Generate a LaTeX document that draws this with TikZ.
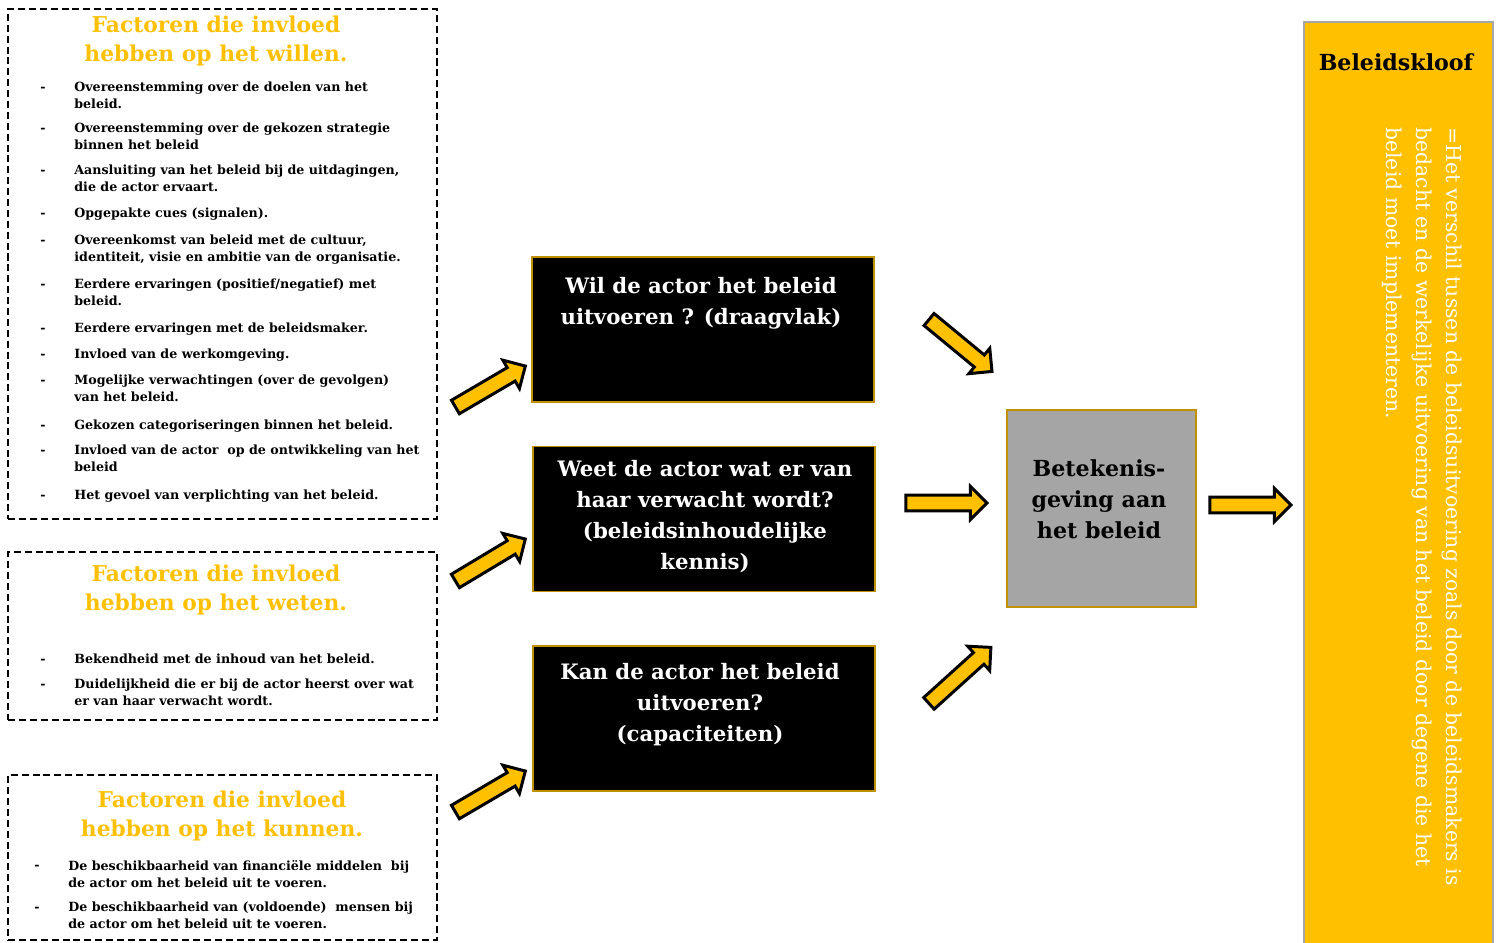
\documentclass[tikz,border=0pt]{standalone}
\usepackage{fontspec}
\setmainfont{DejaVu Serif}
\usetikzlibrary{shapes.arrows, calc}
\definecolor{goldfill}{HTML}{FFC000}
\definecolor{goldborder}{HTML}{BF9000}
\definecolor{greyfill}{HTML}{A5A5A5}
\definecolor{panelborder}{HTML}{A6A6A6}
\tikzset{
  factorframe/.style={rectangle, draw=black, line width=1.1pt, dash pattern=on 4pt off 2.2pt, inner sep=0pt},
  factortitle/.style={font=\bfseries\fontsize{12.4}{17}\selectfont, text=goldfill, align=center, inner sep=0pt},
  item/.style={font=\bfseries\fontsize{7.2}{9.64}\selectfont, align=left, anchor=north west, inner sep=0pt},
  dashmark/.style={item, text height=5.3pt},
  question/.style={rectangle, fill=black, draw=goldborder, line width=1.1pt, minimum width=6.84cm, minimum height=2.9cm},
  questiontext/.style={font=\bfseries\fontsize{12.1}{17.6}\selectfont, text=white, align=center, anchor=north, inner sep=0pt},
  meaning/.style={rectangle, fill=greyfill, draw=goldborder, line width=1.1pt, minimum width=3.78cm, minimum height=3.94cm},
  blockarrow/.style={single arrow, draw=black, fill=goldfill, line width=1.7pt, inner sep=3.6pt, single arrow head extend=4.9pt, single arrow head indent=0pt, sloped}
}

\begin{document}
\begin{tikzpicture}[x=0.02cm, y=-0.02cm]
\useasboundingbox (0,0) rectangle (1499,943);

% factor frames
\node[factorframe, minimum width=8.58cm, minimum height=10.2cm] (willen) at (222.5,264) {};
\node[factorframe, minimum width=8.58cm, minimum height=3.36cm] (weten) at (222.5,636) {};
\node[factorframe, minimum width=8.58cm, minimum height=3.3cm] (kunnen) at (222.5,857.5) {};

\node[factortitle] (willen-title) at (216,41) {Factoren die invloed\\hebben op het willen.};
\node[factortitle] (weten-title) at (216,590) {Factoren die invloed\\hebben op het weten.};
\node[factortitle] (kunnen-title) at (222,816) {Factoren die invloed\\hebben op het kunnen.};

\foreach \y/\txt [count=\i] in {
  87/{Overeenstemming over de doelen van het\\beleid.},
  128/{Overeenstemming over de gekozen strategie\\binnen het beleid},
  170/{Aansluiting van het beleid bij de uitdagingen,\\die de actor ervaart.},
  213/{Opgepakte cues (signalen).},
  240/{Overeenkomst van beleid met de cultuur,\\identiteit, visie en ambitie van de organisatie.},
  284/{Eerdere ervaringen (positief/negatief) met\\beleid.},
  328/{Eerdere ervaringen met de beleidsmaker.},
  354/{Invloed van de werkomgeving.},
  380/{Mogelijke verwachtingen (over de gevolgen)\\van het beleid.},
  425/{Gekozen categoriseringen binnen het beleid.},
  450/{Invloed van de actor\ \ op de ontwikkeling van het\\beleid},
  495/{Het gevoel van verplichting van het beleid.}} {
  \node[dashmark] (willen-dash\i) at (40,\y-5) {-};
  \node[item] (willen-item\i) at (74,\y-5) {\txt};
}

\foreach \y/\txt [count=\i] in {
  659/{Bekendheid met de inhoud van het beleid.},
  684/{Duidelijkheid die er bij de actor heerst over wat\\er van haar verwacht wordt.}} {
  \node[dashmark] (weten-dash\i) at (40,\y-5) {-};
  \node[item] (weten-item\i) at (74,\y-5) {\txt};
}

\foreach \y/\txt [count=\i] in {
  865/{De beschikbaarheid van financiële middelen\ \ bij\\de actor om het beleid uit te voeren.},
  907/{De beschikbaarheid van (voldoende)\ \ mensen bij\\de actor om het beleid uit te voeren.}} {
  \node[dashmark] (kunnen-dash\i) at (34,\y-5) {-};
  \node[item] (kunnen-item\i) at (68,\y-5) {\txt};
}

% questions
\node[question] (wil) at (703,329.5) {};
\node[question] (weet) at (704,519) {};
\node[question] (kan) at (704,718.5) {};
\node[questiontext] (wil-text) at (701,277) {Wil de actor het beleid\\uitvoeren ? (draagvlak)};
\node[questiontext] (weet-text) at (705,460) {Weet de actor wat er van\\haar verwacht wordt?\\(beleidsinhoudelijke\\kennis)};
\node[questiontext] (kan-text) at (700,663) {Kan de actor het beleid\\uitvoeren?\\(capaciteiten)};

\node[meaning] (betekenis) at (1101.5,508.5) {};
\node[questiontext, text=black, anchor=center, font=\bfseries\fontsize{12.6}{17.6}\selectfont] (betekenis-text) at (1099,499) {Betekenis-\\geving aan\\het beleid};

% beleidskloof panel
\node[rectangle, fill=goldfill, draw=panelborder, line width=1.1pt, minimum width=3.78cm, minimum height=18.6cm] (kloof) at (1398.5,487) {};
\node[font=\bfseries\fontsize{12.6}{14}\selectfont, inner sep=0pt] (kloof-title) at (1396,62) {Beleidskloof};
\node[font=\fontsize{11.6}{17}\selectfont, text=white, align=left, rotate=-90, anchor=north west, inner sep=0pt] (kloof-text) at (1462,127)
  {=Het verschil tussen de beleidsuitvoering zoals door de beleidsmakers is\\bedacht en de werkelijke uitvoering van het beleid door degene die het\\beleid moet implementeren.};

% arrows
\coordinate (tail1) at (452,409); \coordinate (tip1) at (522,368);
\coordinate (tail2) at (452,583); \coordinate (tip2) at (522,541);
\coordinate (tail3) at (452,814); \coordinate (tip3) at (522,773);
\coordinate (tail4) at (926,317); \coordinate (tip4) at (989,369);
\coordinate (tail5) at (902,503); \coordinate (tip5) at (983,503);
\coordinate (tail6) at (926,706); \coordinate (tip6) at (988,650);
\coordinate (tail7) at (1206,505); \coordinate (tip7) at (1287,505);

\foreach \i in {1,...,7}
  \path let \p1=($(tip\i)-(tail\i)$), \n1={veclen(\x1,\y1)} in
    (tail\i) -- node[blockarrow, minimum height=\n1] (arrow\i) {} (tip\i);

\end{tikzpicture}
\end{document}
